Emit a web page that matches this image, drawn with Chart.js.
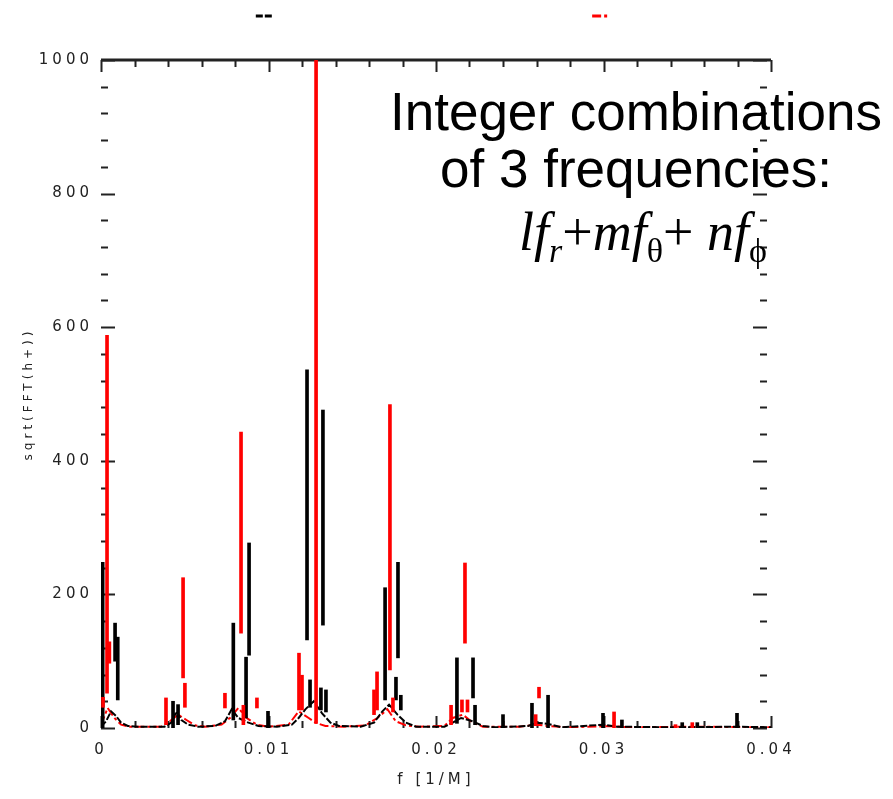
<!DOCTYPE html>
<html>
<head>
<meta charset="utf-8">
<script src="https://cdn.jsdelivr.net/npm/chart.js@4/dist/chart.umd.min.js"></script>
<style>
  html, body { margin: 0; padding: 0; background: #fff; }
  canvas { display: block; }
</style>
</head>
<body>
<canvas id="espectro" width="893" height="799"></canvas>
<script>
// ejes
const xTickValues = [0, 0.01, 0.02, 0.03, 0.04];
const xTickLabels = ['0', '0.01', '0.02', '0.03', '0.04'];
const yTickValues = [0, 200, 400, 600, 800, 1000];
const yTickLabels = ['0', '200', '400', '600', '800', '1000'];

// picos serie negra (frecuencia, valor bajo, valor alto)
const blackSpikeFreq = [0.0001, 0.00084, 0.001, 0.0043, 0.0046, 0.0079, 0.00866, 0.00884, 0.00997,
  0.0123, 0.01248, 0.01313, 0.01325, 0.01343, 0.01696, 0.01761, 0.01773, 0.0179,
  0.02125, 0.02221, 0.02233, 0.024, 0.02573, 0.02669, 0.02997, 0.0311, 0.0347, 0.0356, 0.03797];
const blackSpikeLow = [0, 100, 42, 0, 5, 12, 15, 109, 0,
  132, 31, 27, 154, 24, 42, 42, 105, 27,
  7, 45, 5, 0, 0, 0, 0, 0, 0, 0, 0];
const blackSpikeHigh = [248, 157, 136, 40, 35, 157, 106, 277, 25,
  536, 72, 60, 476, 57, 210, 76, 248, 49,
  105, 105, 34, 20, 37, 49, 22, 12, 8, 8, 22];

// picos serie roja
const redSpikeFreq = [0.00012, 0.00036, 0.0005, 0.00388, 0.0049, 0.00501, 0.0074, 0.00836, 0.0085,
  0.00931, 0.01182, 0.012, 0.01284, 0.0163, 0.01648, 0.01725, 0.01743, 0.0209, 0.02173,
  0.02155, 0.02188, 0.02615, 0.02595, 0.03063, 0.0343, 0.0353];
const redSpikeLow = [31, 52, 97, 5, 75, 31, 30, 142, 5,
  30, 27, 27, 7, 20, 27, 87, 24, 5, 127,
  24, 24, 45, 5, 0, 0, 0];
const redSpikeHigh = [46, 588, 129, 45, 225, 67, 52, 443, 34,
  45, 112, 79, 1000, 57, 84, 484, 45, 34, 247,
  42, 42, 61, 20, 24, 5, 8];

// ruido de fondo
const blackBaseFreq = [0, 0.0003, 0.0006, 0.0009, 0.0012, 0.0016, 0.0022, 0.0038, 0.0042, 0.0045, 0.0048,
  0.0052, 0.0058, 0.0068, 0.0074, 0.0078, 0.0082, 0.0088, 0.0094, 0.0105, 0.0114, 0.0118, 0.0122,
  0.0127, 0.0132, 0.0137, 0.0142, 0.0155, 0.0163, 0.0168, 0.0172, 0.0177, 0.0182, 0.0188, 0.0205,
  0.021, 0.0215, 0.0222, 0.0228, 0.0235, 0.0255, 0.026, 0.0267, 0.0275, 0.03, 0.0308, 0.034, 0.038, 0.04];
const blackBaseVal = [2, 10, 25, 18, 8, 3, 2, 2, 8, 25, 12,
  5, 2, 3, 10, 28, 15, 8, 3, 2, 5, 15, 28,
  40, 22, 8, 3, 2, 8, 25, 35, 20, 8, 2, 2,
  8, 15, 10, 3, 1, 3, 8, 6, 1, 5, 2, 1, 2, 1];

const redBaseFreq = [0, 0.0004, 0.0008, 0.0012, 0.0017, 0.0036, 0.0041, 0.0046, 0.0051, 0.0056, 0.0062,
  0.0072, 0.0077, 0.0082, 0.0087, 0.0093, 0.01, 0.0112, 0.0118, 0.0124, 0.0128, 0.0134, 0.0145,
  0.0158, 0.0165, 0.0171, 0.0176, 0.0182, 0.019, 0.0205, 0.021, 0.0216, 0.0222, 0.0228, 0.025,
  0.026, 0.0267, 0.028, 0.0305, 0.0315, 0.035, 0.04];
const redBaseVal = [5, 30, 15, 5, 2, 2, 10, 20, 12, 4, 2,
  5, 15, 30, 15, 5, 2, 5, 25, 15, 8, 3, 2,
  4, 15, 28, 10, 4, 2, 3, 15, 20, 8, 2, 2,
  5, 3, 1, 3, 1, 2, 1];

const NEGRO = '#000000';
const ROJO = '#ff0000';

function picos(freq, lo, hi) {
  return freq.map((f, i) => ({ x: f, y: [lo[i], hi[i]] }));
}
function puntos(freq, val) {
  return freq.map((f, i) => ({ x: f, y: val[i] }));
}

// marcas hacia adentro, linea superior, leyenda y texto
const decoraciones = {
  id: 'decoraciones',
  beforeDraw(chart) {
    chart.ctx.letterSpacing = '4px';
  },
  beforeDatasetsDraw(chart) {
    const ctx = chart.ctx;
    const a = chart.chartArea;
    const xs = chart.scales.x, ys = chart.scales.y;
    ctx.save();
    ctx.letterSpacing = '0px';
    ctx.strokeStyle = '#222';
    ctx.lineWidth = 2;
    // x menores cada 0.002
    for (let k = 0; k <= 20; k++) {
      const v = k * 0.002;
      const px = Math.round(xs.getPixelForValue(v)) + 0.5;
      const major = k % 5 === 0;
      const len = major ? 12 : 7;
      ctx.beginPath();
      ctx.moveTo(px, a.top); ctx.lineTo(px, a.top + len);
      ctx.moveTo(px, a.bottom); ctx.lineTo(px, a.bottom - len);
      ctx.stroke();
    }
    // y menores cada 40
    for (let k = 0; k <= 25; k++) {
      const v = k * 40;
      const py = Math.round(ys.getPixelForValue(v)) + 0.5;
      const major = k % 5 === 0;
      const len = major ? 14 : 7;
      ctx.beginPath();
      ctx.moveTo(a.left, py); ctx.lineTo(a.left + len, py);
      ctx.moveTo(a.right - 4, py); ctx.lineTo(a.right - 4 - len, py);
      ctx.stroke();
    }
    // linea superior
    ctx.lineWidth = 3;
    ctx.beginPath();
    ctx.moveTo(a.left, a.top); ctx.lineTo(a.right, a.top);
    ctx.stroke();
    ctx.restore();
  },
  afterDraw(chart) {
    const ctx = chart.ctx;
    const a = chart.chartArea;
    ctx.save();
    ctx.letterSpacing = '0px';
    // leyenda (solo muestras de linea)
    const slots = [0.243, 0.745];
    [2, 3].forEach((di, j) => {
      const ds = chart.data.datasets[di];
      const cx = a.left + slots[j] * (a.right - a.left);
      ctx.strokeStyle = ds.borderColor;
      ctx.lineWidth = 3;
      ctx.setLineDash(ds.borderDash);
      ctx.beginPath();
      ctx.moveTo(cx - 8, 16); ctx.lineTo(cx + 9, 16);
      ctx.stroke();
    });
    ctx.setLineDash([]);

    // texto
    ctx.fillStyle = '#000';
    ctx.textBaseline = 'alphabetic';
    ctx.textAlign = 'center';
    ctx.font = '53px "Liberation Sans", Arial, sans-serif';
    ctx.fillText('Integer combinations', 636, 130);
    ctx.fillText('of 3 frequencies:', 636, 187);

    const big = '54px "Liberation Serif", "Times New Roman", serif';
    const bigIt = 'italic ' + big;
    const subIt = 'italic 34px "Liberation Serif", serif';
    const sub = '34px "Liberation Serif", serif';
    const partes = [
      ['lf', bigIt, 0], ['r', subIt, 12], ['+', big, 0], ['mf', bigIt, 0], ['\u03b8', sub, 12],
      ['+ ', big, 0], ['nf', bigIt, 0], ['\u03d5', sub, 12]
    ];
    let total = 0;
    partes.forEach(p => { ctx.font = p[1]; total += ctx.measureText(p[0]).width; });
    let x = 643 - total / 2;
    ctx.textAlign = 'left';
    partes.forEach(p => {
      ctx.font = p[1];
      ctx.fillText(p[0], x, 250 + p[2]);
      x += ctx.measureText(p[0]).width;
    });
    ctx.restore();
  }
};

const tickFont = { family: '"DejaVu Sans", sans-serif', size: 15 };

const config = {
  type: 'bar',
  data: {
    datasets: [
      {
        label: 'hx picos',
        data: picos(redSpikeFreq, redSpikeLow, redSpikeHigh),
        backgroundColor: ROJO,
        borderWidth: 0,
        barThickness: 3,
        grouped: false
      },
      {
        label: 'h+ picos',
        data: picos(blackSpikeFreq, blackSpikeLow, blackSpikeHigh),
        backgroundColor: NEGRO,
        borderWidth: 0,
        barThickness: 3,
        grouped: false
      },
      {
        type: 'line',
        label: 'h+',
        data: puntos(blackBaseFreq, blackBaseVal),
        borderColor: NEGRO,
        borderWidth: 2,
        borderDash: [7, 2],
        pointRadius: 0,
        tension: 0
      },
      {
        type: 'line',
        label: 'hx',
        data: puntos(redBaseFreq, redBaseVal),
        borderColor: ROJO,
        borderWidth: 2,
        borderDash: [9, 3, 3, 3],
        pointRadius: 0,
        tension: 0
      }
    ]
  },
  options: {
    responsive: false,
    animation: false,
    devicePixelRatio: 1,
    layout: { padding: { top: 60, right: 122, left: 0, bottom: 0 } },
    plugins: {
      legend: { display: false },
      tooltip: { enabled: false }
    },
    scales: {
      x: {
        type: 'linear',
        min: 0,
        max: 0.04,
        offset: false,
        grid: { display: false, drawTicks: false },
        border: { display: false },
        afterBuildTicks: (s) => { s.ticks = xTickValues.map(v => ({ value: v })); },
        ticks: {
          padding: 13,
          color: '#222',
          font: tickFont,
          maxRotation: 0,
          callback: (v, i) => xTickLabels[i]
        },
        title: {
          display: true,
          text: 'f [1/M]',
          color: '#222',
          font: { family: '"DejaVu Sans", sans-serif', size: 15 },
          padding: { top: 0, bottom: 10 }
        },
        afterFit: (s) => { s.height = 71; }
      },
      y: {
        min: 0,
        max: 1000,
        grid: { display: false, drawTicks: false },
        border: { display: false },
        afterBuildTicks: (s) => { s.ticks = yTickValues.map(v => ({ value: v })); },
        ticks: {
          padding: 8,
          color: '#222',
          font: tickFont,
          callback: (v, i) => yTickLabels[i]
        },
        title: {
          display: true,
          text: 'sqrt(FFT(h+))',
          color: '#222',
          font: { family: '"DejaVu Sans", sans-serif', size: 12 },
          padding: { top: 22, bottom: 0 }
        },
        afterFit: (s) => { s.width = 101; }
      }
    }
  },
  plugins: [decoraciones]
};

const miGrafico = new Chart(document.getElementById('espectro'), config);
</script>
</body>
</html>
